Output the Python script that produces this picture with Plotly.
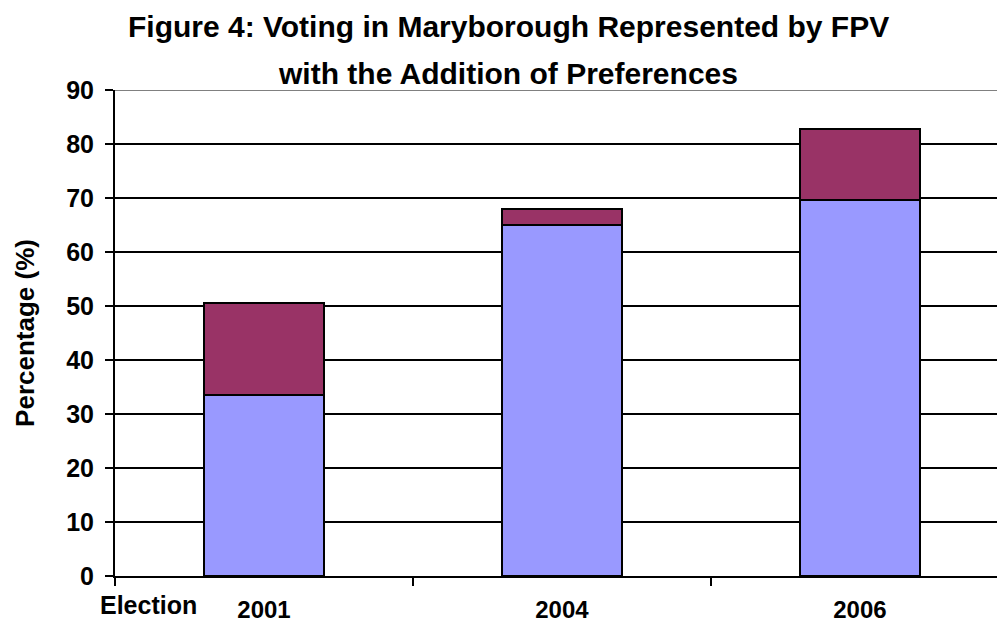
import plotly.graph_objects as go

# Election years and vote shares (%)
elections = ["2001", "2004", "2006"]
fpv = [33.5, 65.0, 69.6]            # first preference votes
preferences = [17.0, 3.0, 13.1]     # added through preferences

y_ticks = [0, 10, 20, 30, 40, 50, 60, 70, 80, 90]

FONT = "Liberation Sans, Arial, sans-serif"

fig = go.Figure()
fig.add_trace(go.Bar(
    x=elections, y=fpv, name="FPV",
    width=0.4,
    marker=dict(color="#9999FF", line=dict(color="black", width=2)),
))
fig.add_trace(go.Bar(
    x=elections, y=preferences, name="Preferences",
    width=0.4,
    marker=dict(color="#993366", line=dict(color="black", width=2)),
))

fig.update_layout(
    width=997, height=622,
    barmode="stack",
    showlegend=False,
    plot_bgcolor="white",
    paper_bgcolor="white",
    margin=dict(l=115, r=0, t=90, b=46, autoexpand=False),
    font=dict(family=FONT, color="black"),
    xaxis=dict(
        type="category",
        range=[-0.5, 2.46],
        automargin=False,
        showline=True, linecolor="black", linewidth=2,
        ticks="outside", tickson="boundaries", ticklen=8,
        tickwidth=2, tickcolor="black",
        ticklabelstandoff=11,
        tickfont=dict(family=FONT, size=24, color="black", weight="bold"),
        showgrid=False,
    ),
    yaxis=dict(
        range=[0, 90],
        tickvals=y_ticks,
        automargin=False,
        showline=True, linecolor="black", linewidth=2,
        ticks="outside", ticklen=8, tickwidth=2, tickcolor="black",
        ticklabelstandoff=6,
        tickfont=dict(family=FONT, size=25, color="black", weight="bold"),
        showgrid=True, gridcolor="black", gridwidth=2,
        zeroline=False,
        title=dict(text="Percentage (%)", standoff=24,
                   font=dict(family=FONT, size=26, color="black", weight="bold")),
    ),
)

# grey plot-area border along the top
fig.add_shape(type="line", xref="paper", yref="y", x0=0, x1=1, y0=90, y1=90,
              line=dict(color="#808080", width=2), layer="above")

# two-line chart title
TITLE_X = (508 - 115) / 882
fig.add_annotation(text="<b>Figure 4: Voting in Maryborough Represented by FPV</b>",
                   xref="paper", yref="paper", x=TITLE_X, y=1,
                   yshift=64, xanchor="center", yanchor="middle", showarrow=False,
                   font=dict(family=FONT, size=30, color="black"))
fig.add_annotation(text="<b>with the Addition of Preferences</b>",
                   xref="paper", yref="paper", x=TITLE_X, y=1,
                   yshift=17, xanchor="center", yanchor="middle", showarrow=False,
                   font=dict(family=FONT, size=30, color="black"))

# category axis caption
fig.add_annotation(text="<b>Election</b>", xref="paper", yref="paper",
                   x=(148 - 115) / 882, y=0, yshift=-29,
                   xanchor="center", yanchor="middle", showarrow=False,
                   font=dict(family=FONT, size=25, color="black"))

fig.write_html("out.html")
